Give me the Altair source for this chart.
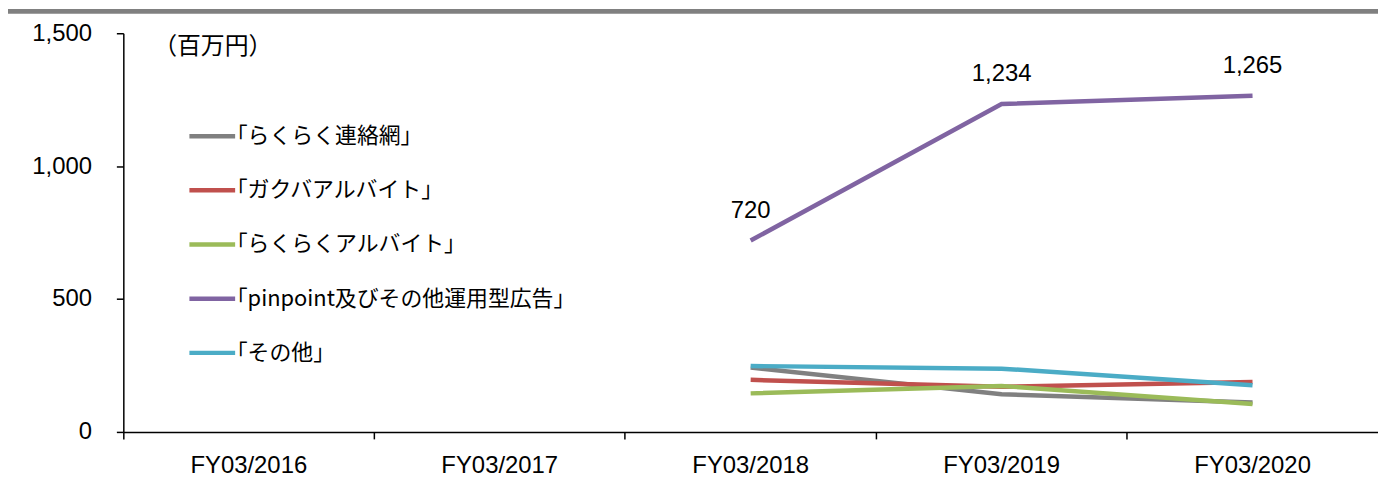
import altair as alt
import pandas as pd

years = ["FY03/2016", "FY03/2017", "FY03/2018", "FY03/2019", "FY03/2020"]
plot_years = ["FY03/2018", "FY03/2019", "FY03/2020"]
series = ["「らくらく連絡網」", "「ガクバアルバイト」", "「らくらくアルバイト」",
          "「pinpoint及びその他運用型広告」", "「その他」"]
colors = ["#808080", "#C0504D", "#9BBB59", "#8064A2", "#4BACC6"]
renraku = [242, 142, 111]
gakuba = [196, 170, 188]
rakuarubaito = [145, 173, 105]
pinpoint = [720, 1234, 1265]
sonota = [248, 238, 176]
label_values = [720, 1234, 1265]

rows = []
for name, vals in zip(series, [renraku, gakuba, rakuarubaito, pinpoint, sonota]):
    for y, v in zip(plot_years, vals):
        rows.append({"year": y, "series": name, "value": v})
df = pd.DataFrame(rows)
lab = pd.DataFrame({"year": plot_years, "value": label_values})

xscale = alt.Scale(type="band", domain=years, paddingInner=0, paddingOuter=0)
xaxis = alt.Axis(title=None, labelFont="Liberation Sans", labelFontSize=24, labelColor="#000000",
                 labelAngle=0, domainColor="#000000", domainWidth=1.5, tickColor="#000000",
                 tickWidth=1.5, tickSize=7, bandPosition=0, labelPadding=15, grid=False)
yscale = alt.Scale(domain=[0, 1500], nice=False)
yaxis = alt.Axis(title=None, values=[0, 500, 1000, 1500], format=",.0f", labelFont="Liberation Sans",
                 labelFontSize=24, labelColor="#000000", domainColor="#000000", domainWidth=1.5,
                 tickColor="#000000", tickWidth=1.5, tickSize=7, labelPadding=25, grid=False)

lines = alt.Chart(df).mark_line(strokeWidth=4.5).encode(
    x=alt.X("year:N", scale=xscale, axis=xaxis, bandPosition=0.5),
    y=alt.Y("value:Q", scale=yscale, axis=yaxis),
    color=alt.Color("series:N", scale=alt.Scale(domain=series, range=colors),
                    legend=alt.Legend(title=None, orient="none", legendX=42, legendY=78,
                                      symbolType="M-0.48,0H1.52", symbolSize=2116, symbolStrokeWidth=4.5,
                                      symbolOffset=10, symbolFillColor="transparent",
                                      labelFont="Noto Sans CJK JP", labelFontSize=22, labelColor="#000000",
                                      rowPadding=17.5, labelOffset=0, labelLimit=600)),
    detail="series:N",
)

texts = alt.Chart(lab).mark_text(font="Liberation Sans", fontSize=24, color="#000000", dy=-30).encode(
    x=alt.X("year:N", scale=xscale, axis=xaxis, bandPosition=0.5),
    y=alt.Y("value:Q", scale=yscale, axis=yaxis),
    text=alt.Text("value:Q", format=","),
)

unit = alt.Chart(pd.DataFrame({"t": ["（百万円）"]})).mark_text(
    font="Noto Sans CJK JP", fontSize=24, color="#000000", align="left", baseline="middle"
).encode(x=alt.value(30), y=alt.value(14), text="t:N")

topbar = alt.Chart(pd.DataFrame({"a": [0]})).mark_rule(color="#808080", strokeWidth=5).encode(
    x=alt.value(-116), x2=alt.value(1262), y=alt.value(-22)
)

chart = alt.layer(topbar, lines, texts, unit).properties(
    width=1262, height=401,
    padding={"left": 116, "top": 24, "right": 0, "bottom": 54},
    autosize=alt.AutoSizeParams(type="none"),
    background="#ffffff",
).configure_view(stroke=None).configure_axis(grid=False)

chart.save("out.html", embed_options={"renderer": "svg", "actions": False})
